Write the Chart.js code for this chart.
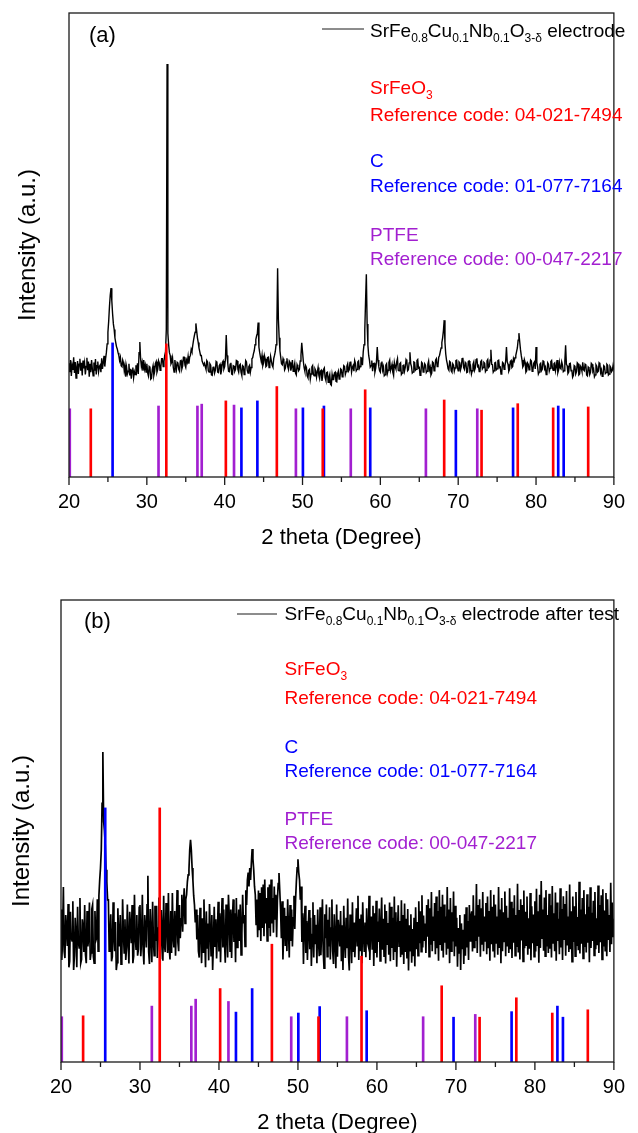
<!DOCTYPE html>
<html>
<head>
<meta charset="utf-8">
<script src="https://cdn.jsdelivr.net/npm/chart.js@4.4.1/dist/chart.umd.min.js"></script>
<style>
  body { margin: 0; background: #fff; }
  canvas { display: block; }
</style>
</head>
<body>
<canvas id="chartA" width="638" height="565"></canvas>
<canvas id="chartB" width="638" height="568"></canvas>
<script>
// scan: 20 to 90 degrees, one reading every 0.1 degree
const scanStart = 20;
const scanStep = 0.1;

// SrFe0.8Cu0.1Nb0.1O3-d electrode (a), intensity in arbitrary units (0-1000)
const patternA = [
  245, 226, 252, 218, 240, 231, 258, 224, 248, 213, 236, 250, 222, 243, 255, 229, 246, 219, 251, 234,
  246, 221, 238, 257, 230, 249, 216, 244, 226, 252, 233, 218, 247, 229, 254, 221, 240, 249, 227, 238,
  241, 226, 256, 233, 247, 261, 238, 255, 268, 287, 312, 336, 368, 392, 407, 380, 352, 330, 318, 300,
  290, 281, 276, 268, 262, 251, 258, 240, 238, 252, 246, 229, 241, 216, 236, 222, 228, 244, 219, 233,
  212, 230, 236, 214, 227, 221, 241, 229, 245, 222, 268, 291, 255, 238, 247, 229, 252, 233, 241, 226,
  244, 225, 218, 238, 236, 211, 213, 232, 240, 219, 227, 245, 249, 226, 232, 251, 246, 230, 238, 255,
  255, 238, 249, 262, 270, 318, 890, 310, 285, 268, 262, 244, 248, 257, 236, 226, 252, 240, 231, 247,
  245, 232, 228, 250, 251, 233, 239, 258, 258, 241, 236, 252, 247, 260, 244, 258, 262, 275, 270, 284,
  295, 304, 312, 331, 315, 300, 290, 278, 270, 262, 262, 250, 250, 241, 245, 238, 232, 251, 248, 229,
  226, 244, 241, 220, 219, 236, 238, 224, 230, 249, 247, 226, 225, 240, 243, 221, 231, 247, 250, 233,
  238, 255, 306, 262, 244, 228, 227, 243, 246, 222, 221, 240, 239, 228, 232, 251, 250, 232, 226, 241,
  243, 226, 219, 240, 238, 221, 229, 251, 248, 230, 224, 238, 241, 226, 236, 255, 257, 266, 272, 285,
  296, 304, 310, 333, 280, 268, 258, 249, 262, 240, 246, 262, 255, 238, 240, 257, 258, 236, 244, 260,
  250, 241, 237, 255, 262, 270, 285, 320, 450, 340, 300, 272, 258, 244, 242, 255, 250, 231, 235, 248,
  256, 238, 232, 250, 247, 229, 238, 252, 228, 236, 245, 224, 220, 242, 237, 229, 232, 250, 262, 289,
  270, 250, 236, 228, 240, 236, 218, 214, 230, 232, 211, 222, 237, 240, 221, 218, 233, 229, 215, 226,
  236, 219, 212, 228, 230, 207, 219, 232, 235, 214, 208, 225, 226, 204, 214, 221, 200, 198, 221, 210,
  210, 224, 226, 206, 205, 222, 228, 211, 214, 233, 231, 216, 222, 240, 238, 221, 227, 239, 244, 228,
  231, 247, 249, 226, 236, 240, 228, 251, 245, 229, 232, 248, 250, 234, 238, 257, 256, 241, 270, 285,
  317, 380, 437, 330, 284, 262, 252, 237, 240, 251, 228, 244, 245, 226, 234, 249, 280, 252, 238, 229,
  226, 245, 249, 230, 237, 218, 220, 241, 244, 223, 230, 247, 252, 229, 235, 243, 226, 219, 247, 238,
  233, 248, 255, 230, 229, 244, 246, 221, 224, 240, 241, 228, 236, 253, 250, 229, 231, 246, 269, 244,
  238, 224, 226, 248, 247, 230, 232, 251, 253, 235, 236, 219, 222, 247, 245, 226, 230, 244, 241, 225,
  228, 243, 250, 231, 237, 220, 224, 248, 246, 229, 233, 252, 255, 238, 240, 258, 262, 270, 278, 290,
  300, 315, 338, 290, 265, 252, 244, 233, 230, 249, 247, 229, 226, 244, 241, 228, 235, 251, 252, 236,
  229, 248, 246, 231, 238, 255, 257, 236, 232, 247, 244, 225, 226, 249, 250, 231, 237, 222, 229, 243,
  248, 230, 235, 253, 256, 238, 240, 227, 228, 249, 251, 233, 236, 247, 245, 227, 230, 250, 253, 236,
  238, 252, 274, 243, 242, 226, 229, 246, 247, 231, 233, 251, 252, 236, 237, 222, 226, 247, 245, 232,
  239, 250, 280, 248, 243, 228, 232, 249, 251, 236, 238, 255, 250, 257, 262, 270, 278, 295, 310, 292,
  275, 262, 252, 237, 240, 253, 247, 226, 229, 246, 243, 231, 236, 252, 250, 228, 231, 245, 248, 233,
  280, 247, 238, 222, 226, 243, 245, 229, 232, 250, 249, 233, 237, 221, 225, 246, 243, 228, 234, 249,
  251, 236, 230, 244, 246, 229, 238, 252, 225, 231, 247, 235, 233, 248, 241, 227, 229, 250, 284, 243,
  240, 223, 226, 244, 245, 229, 231, 215, 219, 240, 238, 222, 227, 246, 244, 220, 222, 239, 236, 228,
  247, 231, 229, 243, 241, 220, 218, 237, 235, 221, 226, 245, 243, 228, 232, 216, 220, 242, 239, 226,
  228, 246, 244, 225, 231, 217, 219, 240, 238, 223, 225, 243, 241, 220, 222, 239, 236, 227, 230, 241,
  233
];

// same electrode after test (b)
const patternB = [
  330, 221, 265, 379, 240, 225, 318, 289, 251, 342, 205, 218, 325, 270, 262, 348, 199, 230, 312, 275,
  205, 336, 260, 247, 355, 214, 222, 309, 291, 238, 340, 232, 214, 327, 250, 268, 345, 221, 236, 331,
  340, 228, 214, 327, 262, 268, 352, 240, 360, 394, 420, 459, 560, 671, 520, 502, 470, 416, 390, 351,
  351, 240, 262, 320, 218, 228, 346, 275, 240, 303, 199, 215, 333, 268, 250, 318, 212, 222, 352, 280,
  236, 309, 221, 248, 341, 260, 213, 325, 290, 257, 340, 214, 229, 362, 271, 244, 318, 230, 244, 335,
  340, 229, 262, 362, 244, 211, 318, 290, 248, 340, 403, 238, 212, 331, 275, 216, 347, 262, 230, 338,
  262, 338, 225, 290, 356, 241, 222, 329, 280, 219, 360, 252, 238, 344, 300, 236, 366, 248, 222, 327,
  236, 366, 270, 248, 327, 230, 295, 372, 259, 240, 340, 268, 310, 362, 282, 340, 376, 300, 352, 362,
  390, 405, 416, 460, 481, 459, 420, 394, 360, 340, 302, 330, 265, 318, 240, 226, 334, 290, 214, 311,
  238, 352, 270, 205, 326, 247, 300, 220, 342, 290, 230, 318, 199, 260, 336, 251, 309, 224, 280, 347,
  239, 322, 216, 300, 355, 248, 330, 262, 215, 341, 278, 226, 362, 318, 240, 330, 225, 308, 352, 260,
  322, 216, 355, 248, 290, 330, 262, 341, 232, 278, 362, 300, 318, 250, 372, 340, 394, 410, 380, 420,
  394, 430, 461, 440, 416, 380, 362, 298, 352, 270, 371, 285, 366, 262, 378, 290, 384, 272, 395, 300,
  355, 262, 378, 290, 384, 272, 395, 300, 355, 280, 380, 310, 362, 270, 350, 386, 409, 370, 330, 268,
  348, 222, 290, 334, 251, 316, 240, 352, 288, 226, 340, 262, 330, 250, 312, 360, 288, 352, 390, 420,
  439, 410, 394, 351, 380, 260, 322, 212, 300, 338, 236, 305, 221, 290, 329, 244, 312, 208, 276, 346,
  226, 318, 255, 297, 214, 330, 262, 229, 335, 231, 280, 352, 240, 203, 320, 268, 341, 228, 308, 250,
  335, 222, 290, 352, 240, 212, 320, 266, 203, 341, 228, 308, 280, 250, 327, 218, 296, 199, 338, 262,
  225, 312, 246, 354, 230, 198, 319, 282, 214, 346, 238, 302, 227, 276, 333, 252, 360, 221, 310, 240,
  319, 214, 346, 275, 238, 302, 227, 333, 260, 252, 360, 221, 290, 315, 245, 338, 208, 322, 236, 349,
  226, 304, 260, 332, 219, 288, 356, 243, 310, 229, 341, 213, 327, 255, 301, 232, 345, 218, 336, 247,
  312, 221, 358, 240, 324, 206, 280, 339, 251, 305, 227, 350, 234, 318, 212, 343, 238, 310, 224, 331,
  198, 296, 241, 320, 215, 288, 229, 312, 207, 335, 244, 303, 230, 348, 257, 326, 239, 361, 248, 317,
  262, 300, 236, 340, 271, 352, 228, 333, 254, 368, 240, 315, 262, 344, 233, 358, 246, 327, 219, 372,
  255, 336, 241, 362, 226, 341, 258, 315, 232, 379, 247, 330, 214, 355, 240, 324, 261, 369, 229, 338,
  250, 312, 206, 290, 236, 318, 199, 300, 244, 286, 212, 320, 230, 335, 248, 305, 221, 340, 262, 315,
  326, 239, 361, 248, 317, 262, 385, 236, 340, 271, 352, 228, 333, 254, 368, 240, 315, 262, 344, 233,
  358, 246, 327, 219, 372, 255, 336, 241, 362, 226, 341, 258, 315, 232, 379, 247, 330, 214, 355, 240,
  324, 261, 369, 229, 338, 250, 312, 236, 376, 244, 347, 225, 333, 258, 361, 230, 318, 249, 386, 237,
  329, 222, 352, 263, 340, 218, 371, 246, 325, 253, 358, 232, 311, 245, 366, 220, 337, 257, 319, 228,
  348, 239, 375, 251, 326, 215, 362, 247, 392, 268, 330, 241, 356, 229, 372, 250, 318, 236, 364, 245,
  339, 226, 381, 258, 322, 240, 367, 219, 345, 262, 310, 233, 376, 248, 331, 221, 359, 266, 342, 230,
  370, 252, 315, 238, 384, 244, 326, 217, 358, 260, 337, 229, 368, 251, 314, 242, 390, 235, 330, 256,
  355, 224, 372, 249, 320, 237, 363, 258, 336, 216, 378, 247, 323, 262, 349, 231, 368, 244, 311, 253,
  382, 236, 340, 259, 361, 222, 374, 250, 328, 241, 366, 229, 352, 264, 318, 238, 388, 255, 345, 272,
  310
];

// reference stick patterns (2 theta) and drawn heights per panel
const srfeo3Angles = [22.8, 32.5, 40.15, 46.7, 52.6, 58.05, 68.2, 73.0, 77.65, 82.2, 86.7];
const srfeo3HeightsA = [147, 287, 164, 195, 147, 188, 166, 144, 158, 149, 151];
const srfeo3HeightsB = [100, 550, 159, 255, 98, 229, 165, 97, 139, 106, 113];

const carbonAngles = [25.6, 42.15, 44.2, 50.05, 52.75, 58.7, 69.7, 77.05, 82.85, 83.55];
const carbonHeightsA = [289, 149, 164, 149, 153, 149, 144, 149, 153, 147];
const carbonHeightsB = [550, 108, 159, 106, 120, 111, 97, 109, 121, 97];

const ptfeAngles = [20.1, 31.5, 36.5, 37.05, 41.2, 49.15, 56.2, 65.85, 72.45];
const ptfeHeightsA = [147, 153, 153, 157, 155, 147, 147, 147, 147];
const ptfeHeightsB = [98, 121, 121, 136, 131, 98, 98, 98, 103];

const sampleNameA = [["SrFe", 0], ["0.8", 1], ["Cu", 0], ["0.1", 1], ["Nb", 0], ["0.1", 1], ["O", 0], ["3-δ", 1], [" electrode", 0]];
const sampleNameB = [["SrFe", 0], ["0.8", 1], ["Cu", 0], ["0.1", 1], ["Nb", 0], ["0.1", 1], ["O", 0], ["3-δ", 1], [" electrode after test", 0]];
const phaseNames = [[["SrFeO", 0], ["3", 1]], [["C", 0]], [["PTFE", 0]]];
const phaseCodes = ["Reference code: 04-021-7494", "Reference code: 01-077-7164", "Reference code: 00-047-2217"];

const RED = "#ff0000";
const BLUE = "#0000ff";
const PURPLE = "#a21fd0";
const FONT = '"Liberation Sans", Arial, sans-serif';
const phaseColors = [RED, BLUE, PURPLE];

function drawRich(ctx, x, y, parts, color) {
  ctx.fillStyle = color;
  ctx.textAlign = "left";
  ctx.textBaseline = "alphabetic";
  parts.forEach(([txt, sub]) => {
    ctx.font = (sub ? "12px " : "19px ") + FONT;
    ctx.fillText(txt, x, sub ? y + 5 : y);
    x += ctx.measureText(txt).width;
  });
}

const decorPlugin = {
  id: "decor",
  afterDraw(chart, args, o) {
    const { ctx, chartArea: a } = chart;
    const x = chart.scales.x;
    ctx.save();
    // box round the plot
    ctx.strokeStyle = "#1a1a1a";
    ctx.lineWidth = 1.3;
    ctx.strokeRect(a.left, a.top, a.right - a.left, a.bottom - a.top);
    // major / minor tick marks
    ctx.beginPath();
    x.ticks.forEach((t) => {
      const px = x.getPixelForValue(t.value);
      ctx.moveTo(px, a.bottom);
      ctx.lineTo(px, a.bottom + (t.value % 10 === 0 ? 8 : 5));
    });
    ctx.stroke();
    // panel letter
    ctx.fillStyle = "#000";
    ctx.font = "22px " + FONT;
    ctx.textBaseline = "middle";
    ctx.fillText(o.panel, o.panelX, o.panelY);
    // legend
    ctx.beginPath();
    ctx.lineWidth = 1;
    ctx.moveTo(o.legendLine[0], o.legendLine[2]);
    ctx.lineTo(o.legendLine[1], o.legendLine[2]);
    ctx.stroke();
    drawRich(ctx, o.textX, o.legendY, o.sample, "#000");
    // phase notes
    phaseNames.forEach((nm, i) => {
      drawRich(ctx, o.noteX, o.noteY[i * 2], nm, phaseColors[i]);
      drawRich(ctx, o.noteX, o.noteY[i * 2 + 1], [[phaseCodes[i], 0]], phaseColors[i]);
    });
    ctx.restore();
  }
};

function sticks(angles, heights, color) {
  return {
    type: "bar",
    data: angles.map((a, i) => ({ x: a, y: heights[i] })),
    backgroundColor: color,
    barThickness: 2,
    grouped: false,
    order: 1
  };
}

function buildChart(id, pattern, heights, lay, deco) {
  const pts = pattern.map((v, i) => ({ x: +(scanStart + i * scanStep).toFixed(1), y: v }));
  return new Chart(document.getElementById(id), {
    type: "line",
    data: {
      datasets: [
        {
          type: "line",
          data: pts,
          borderColor: "#000",
          borderWidth: lay.lineW,
          pointRadius: 0,
          tension: 0,
          order: 2
        },
        sticks(srfeo3Angles, heights[0], RED),
        sticks(carbonAngles, heights[1], BLUE),
        sticks(ptfeAngles, heights[2], PURPLE)
      ]
    },
    options: {
      responsive: false,
      animation: false,
      layout: { padding: { left: 0, right: lay.right, top: lay.top, bottom: 0 } },
      plugins: { legend: { display: false }, tooltip: { enabled: false }, decor: deco },
      scales: {
        x: {
          type: "linear",
          min: 20,
          max: 90,
          offset: false,
          grid: { display: false, drawTicks: false },
          border: { display: false },
          ticks: {
            stepSize: 5,
            padding: 13,
            color: "#000",
            font: { family: FONT, size: 20 },
            callback: (v) => (v % 10 === 0 ? v : "")
          },
          title: {
            display: true,
            text: "2 theta (Degree)",
            color: "#000",
            font: { family: FONT, size: 22 },
            padding: { top: 0, bottom: lay.xTitlePad }
          },
          afterFit: (s) => { s.height = lay.xHeight; }
        },
        y: {
          min: 0,
          max: 1000,
          grid: { display: false },
          border: { display: false },
          ticks: { display: false },
          title: {
            display: true,
            text: "Intensity (a.u.)",
            color: "#000",
            font: { family: FONT, size: 24 },
            padding: { top: lay.yTitlePad, bottom: 0 }
          },
          afterFit: (s) => { s.width = lay.left; }
        }
      }
    },
    plugins: [decorPlugin]
  });
}

buildChart("chartA", patternA, [srfeo3HeightsA, carbonHeightsA, ptfeHeightsA],
  { left: 69, right: 11, top: 13, xHeight: 88, xTitlePad: 14, yTitlePad: 14, lineW: 1.4 },
  {
    panel: "(a)", panelX: 89, panelY: 36,
    legendLine: [322, 364, 29], textX: 370, legendY: 37, sample: sampleNameA,
    noteX: 370, noteY: [94, 121, 167, 192, 241, 265]
  });

buildChart("chartB", patternB, [srfeo3HeightsB, carbonHeightsB, ptfeHeightsB],
  { left: 61, right: 20, top: 35, xHeight: 71, xTitlePad: -3, yTitlePad: 8, lineW: 1.7 },
  {
    panel: "(b)", panelX: 84, panelY: 57,
    legendLine: [237, 277, 49], textX: 284.5, legendY: 55, sample: sampleNameB,
    noteX: 284.5, noteY: [110, 139, 188, 212, 260, 284]
  });
</script>
</body>
</html>
